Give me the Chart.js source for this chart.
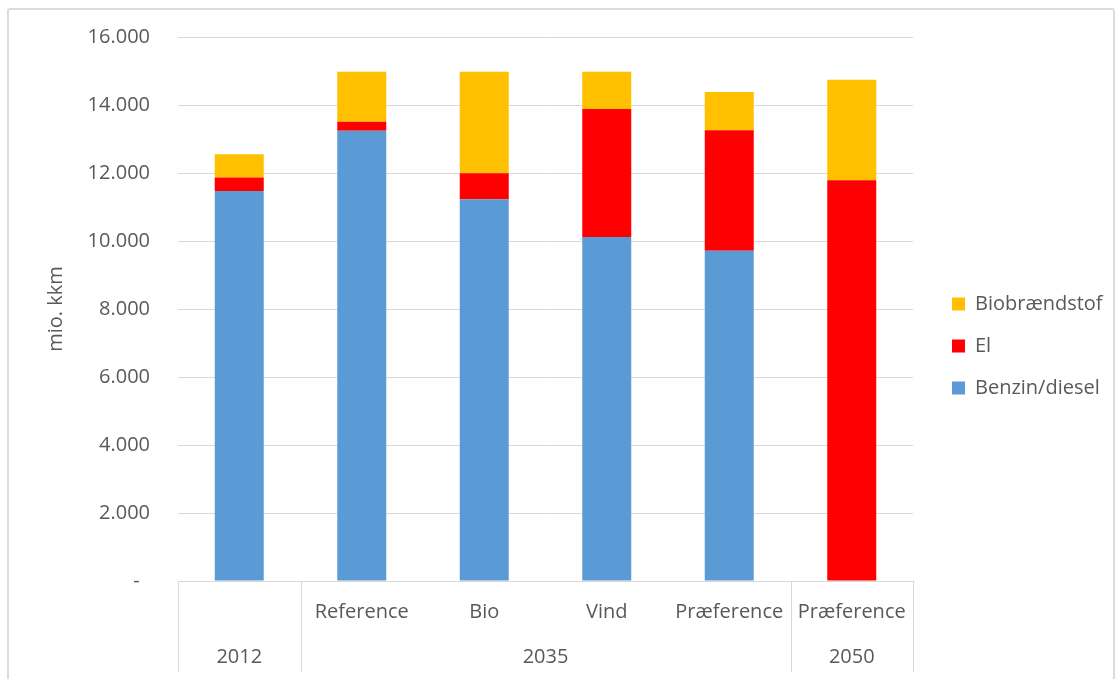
<!DOCTYPE html>
<html>
<head>
<meta charset="utf-8">
<script src="https://cdn.jsdelivr.net/npm/chart.js@4/dist/chart.umd.min.js"></script>
<style>
  html, body { margin: 0; padding: 0; background: #fff; overflow: hidden; }
  #wrap { position: relative; width: 1120px; height: 679px; }
  #frame { position: absolute; left: 7px; top: 8px; width: 1104px; height: 700px;
           border: 2px solid #dcdcdc; border-radius: 3px; pointer-events: none; }
  canvas { position: absolute; left: 0; top: 0; }
</style>
</head>
<body>
<div id="wrap">
  <canvas id="chart" width="1120" height="679"></canvas>
  <div id="frame"></div>
</div>
<script>
// scenario labels (lower row) and year groups (upper row)
const categories = ['', 'Reference', 'Bio', 'Vind', 'Præference', 'Præference'];
const years = ['2012', '2035', '2035', '2035', '2035', '2050'];

// mio. kkm
const benzinDiesel = [11470, 13240, 11230, 10120, 9710, 0];
const el = [400, 270, 760, 3760, 3550, 11790];
const biobraendstof = [680, 1470, 2990, 1100, 1120, 2950];

const yTicks = [0, 2000, 4000, 6000, 8000, 10000, 12000, 14000, 16000];

const textColor = '#595959';
const gridColor = '#d9d9d9';
const fontFamily = '"Open Sans", "Noto Sans", sans-serif';

function formatThousands(v) {
  if (v === 0) return '-  ';
  return String(v).replace(/\B(?=(\d{3})+(?!\d))/g, '.');
}

// draws the year row and the table lines under the x axis
const yearTable = {
  id: 'yearTable',
  afterDraw(chart) {
    const ctx = chart.ctx;
    const x = chart.scales.x;
    const top = chart.chartArea.bottom;
    const bottom = 672;
    const half = (x.right - x.left) / categories.length / 2;

    const groups = [];
    years.forEach((y, i) => {
      const last = groups[groups.length - 1];
      if (last && last.label === y) last.end = i;
      else groups.push({ label: y, start: i, end: i });
    });

    ctx.save();
    ctx.strokeStyle = gridColor;
    ctx.lineWidth = 1;
    const edges = [x.getPixelForValue(0) - half];
    groups.forEach(g => edges.push(x.getPixelForValue(g.end) + half));
    edges.forEach(px => {
      const p = Math.round(px) + 0.5;
      ctx.beginPath();
      ctx.moveTo(p, top);
      ctx.lineTo(p, bottom);
      ctx.stroke();
    });

    ctx.fillStyle = textColor;
    ctx.font = '20px ' + fontFamily;
    ctx.textAlign = 'center';
    ctx.textBaseline = 'middle';
    groups.forEach(g => {
      const cx = (x.getPixelForValue(g.start) + x.getPixelForValue(g.end)) / 2;
      ctx.fillText(g.label, cx, 657);
    });
    ctx.restore();
  }
};

// keeps the legend a fixed width and nudges it into place
const legendPlace = {
  id: 'legendPlace',
  beforeInit(chart) {
    const lg = chart.legend;
    const fit = lg.fit.bind(lg);
    lg.fit = function () {
      fit();
      this.width = 207;
    };
  },
  afterLayout(chart) {
    const lg = chart.legend;
    lg.left += 17; lg.right += 17;
    lg.top -= 12; lg.bottom -= 12;
  }
};

new Chart(document.getElementById('chart'), {
  type: 'bar',
  data: {
    labels: categories,
    datasets: [
      { label: 'Benzin/diesel', data: benzinDiesel, backgroundColor: '#5B9BD5' },
      { label: 'El', data: el, backgroundColor: '#FF0000' },
      { label: 'Biobrændstof', data: biobraendstof, backgroundColor: '#FFC000' }
    ]
  },
  options: {
    responsive: false,
    animation: false,
    layout: { padding: { top: 37, right: 0, bottom: 0, left: 0 } },
    datasets: { bar: { barPercentage: 0.4, categoryPercentage: 1 } },
    scales: {
      x: {
        stacked: true,
        grid: { display: false },
        border: { display: true, color: gridColor },
        ticks: {
          color: textColor, font: { family: fontFamily, size: 20 },
          padding: 11, maxRotation: 0, autoSkip: false
        },
        afterFit(scale) { scale.height = 98; }
      },
      y: {
        stacked: true,
        min: 0,
        max: 16000,
        afterBuildTicks(scale) { scale.ticks = yTicks.map(v => ({ value: v })); },
        grid: { color: gridColor, drawTicks: false },
        border: { display: false },
        ticks: {
          color: textColor, font: { family: fontFamily, size: 20 },
          padding: 28,
          callback: v => formatThousands(v)
        },
        title: {
          display: true, text: 'mio. kkm', color: textColor,
          font: { family: fontFamily, size: 20 },
          padding: { top: 44, bottom: 0 }
        },
        afterFit(scale) {
          scale.width = 178;
          scale.paddingTop = 0;
          scale.paddingBottom = 0;
        }
      }
    },
    plugins: {
      legend: {
        position: 'right',
        reverse: true,
        labels: {
          color: textColor, font: { family: fontFamily, size: 20 },
          boxWidth: 13, boxHeight: 13, padding: 22
        }
      },
      tooltip: { enabled: false }
    }
  },
  plugins: [yearTable, legendPlace]
});
</script>
</body>
</html>
